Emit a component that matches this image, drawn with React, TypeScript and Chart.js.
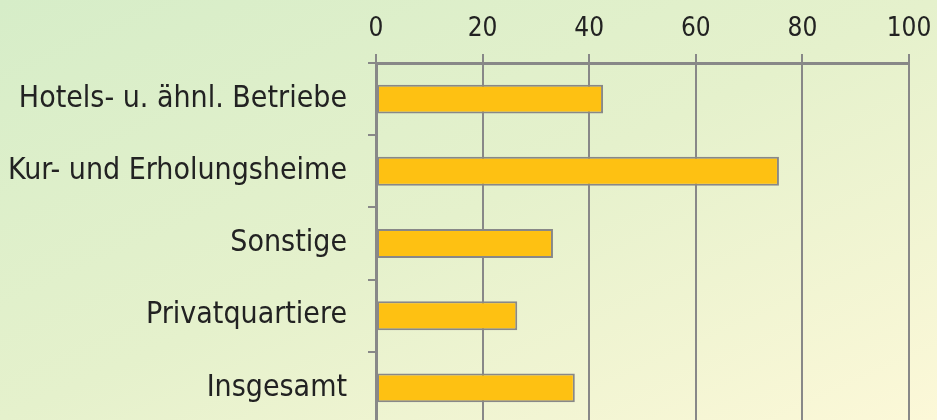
import React, { useEffect, useRef } from "react";
import { Chart, registerables } from "chart.js";

Chart.register(...registerables);

const categories: string[] = [
  "Hotels- u. ähnl. Betriebe",
  "Kur- und Erholungsheime",
  "Sonstige",
  "Privatquartiere",
  "Insgesamt",
];
const values: number[] = [42.6, 75.6, 33.2, 26.5, 37.3];
const xMin = 0;
const xMax = 100;
const xStep = 20;

const FONT = "'DejaVu Sans Condensed', 'DejaVu Sans', sans-serif";

export default function App() {
  const ref = useRef<HTMLCanvasElement | null>(null);
  useEffect(() => {
    document.body.style.margin = "0";
    document.body.style.overflow = "hidden";
    const canvas = ref.current!;
    const chart = new Chart(canvas, {
      type: "bar",
      data: {
        labels: categories,
        datasets: [
          {
            data: values,
            backgroundColor: "#fec112",
            borderColor: "#888888",
            borderWidth: 2,
            borderSkipped: false,
            categoryPercentage: 1,
            barPercentage: 0.4,
          },
        ],
      },
      options: {
        indexAxis: "y",
        animation: false,
        responsive: false,
        maintainAspectRatio: false,
        layout: { padding: { left: 0, right: 28, top: 0, bottom: 0 } },
        plugins: { legend: { display: false }, tooltip: { enabled: false } },
        scales: {
          x: {
            position: "top",
            min: xMin,
            max: xMax,
            ticks: {
              stepSize: xStep,
              color: "#222",
              font: { family: FONT, size: 26 },
              padding: 9,
            },
            grid: {
              color: "#888888",
              lineWidth: 2,
              tickLength: 9,
              tickColor: "#888888",
            },
            border: { color: "#888888", width: 3 },
            afterFit: (s: any) => {
              s.height = 63;
              s.paddingLeft = 0;
              s.paddingRight = 0;
            },
          },
          y: {
            ticks: {
              color: "#222",
              font: { family: FONT, size: 30 },
              padding: 21,
            },
            grid: {
              offset: true,
              drawOnChartArea: false,
              color: "#888888",
              lineWidth: 2,
              tickLength: 8,
            },
            border: { color: "#888888", width: 3 },
            afterFit: (s: any) => {
              s.width = 376;
              s.paddingTop = 0;
              s.paddingBottom = 0;
            },
          },
        },
      },
    });
    return () => chart.destroy();
  }, []);
  return (
    <div
      style={{
        width: 937,
        height: 420,
        overflow: "hidden",
        background:
          "linear-gradient(to bottom right, #d6edc8 0%, #e5f1cc 50%, #fcf8d8 100%)",
      }}
    >
      <canvas ref={ref} width={937} height={424} style={{ display: "block" }} />
    </div>
  );
}
